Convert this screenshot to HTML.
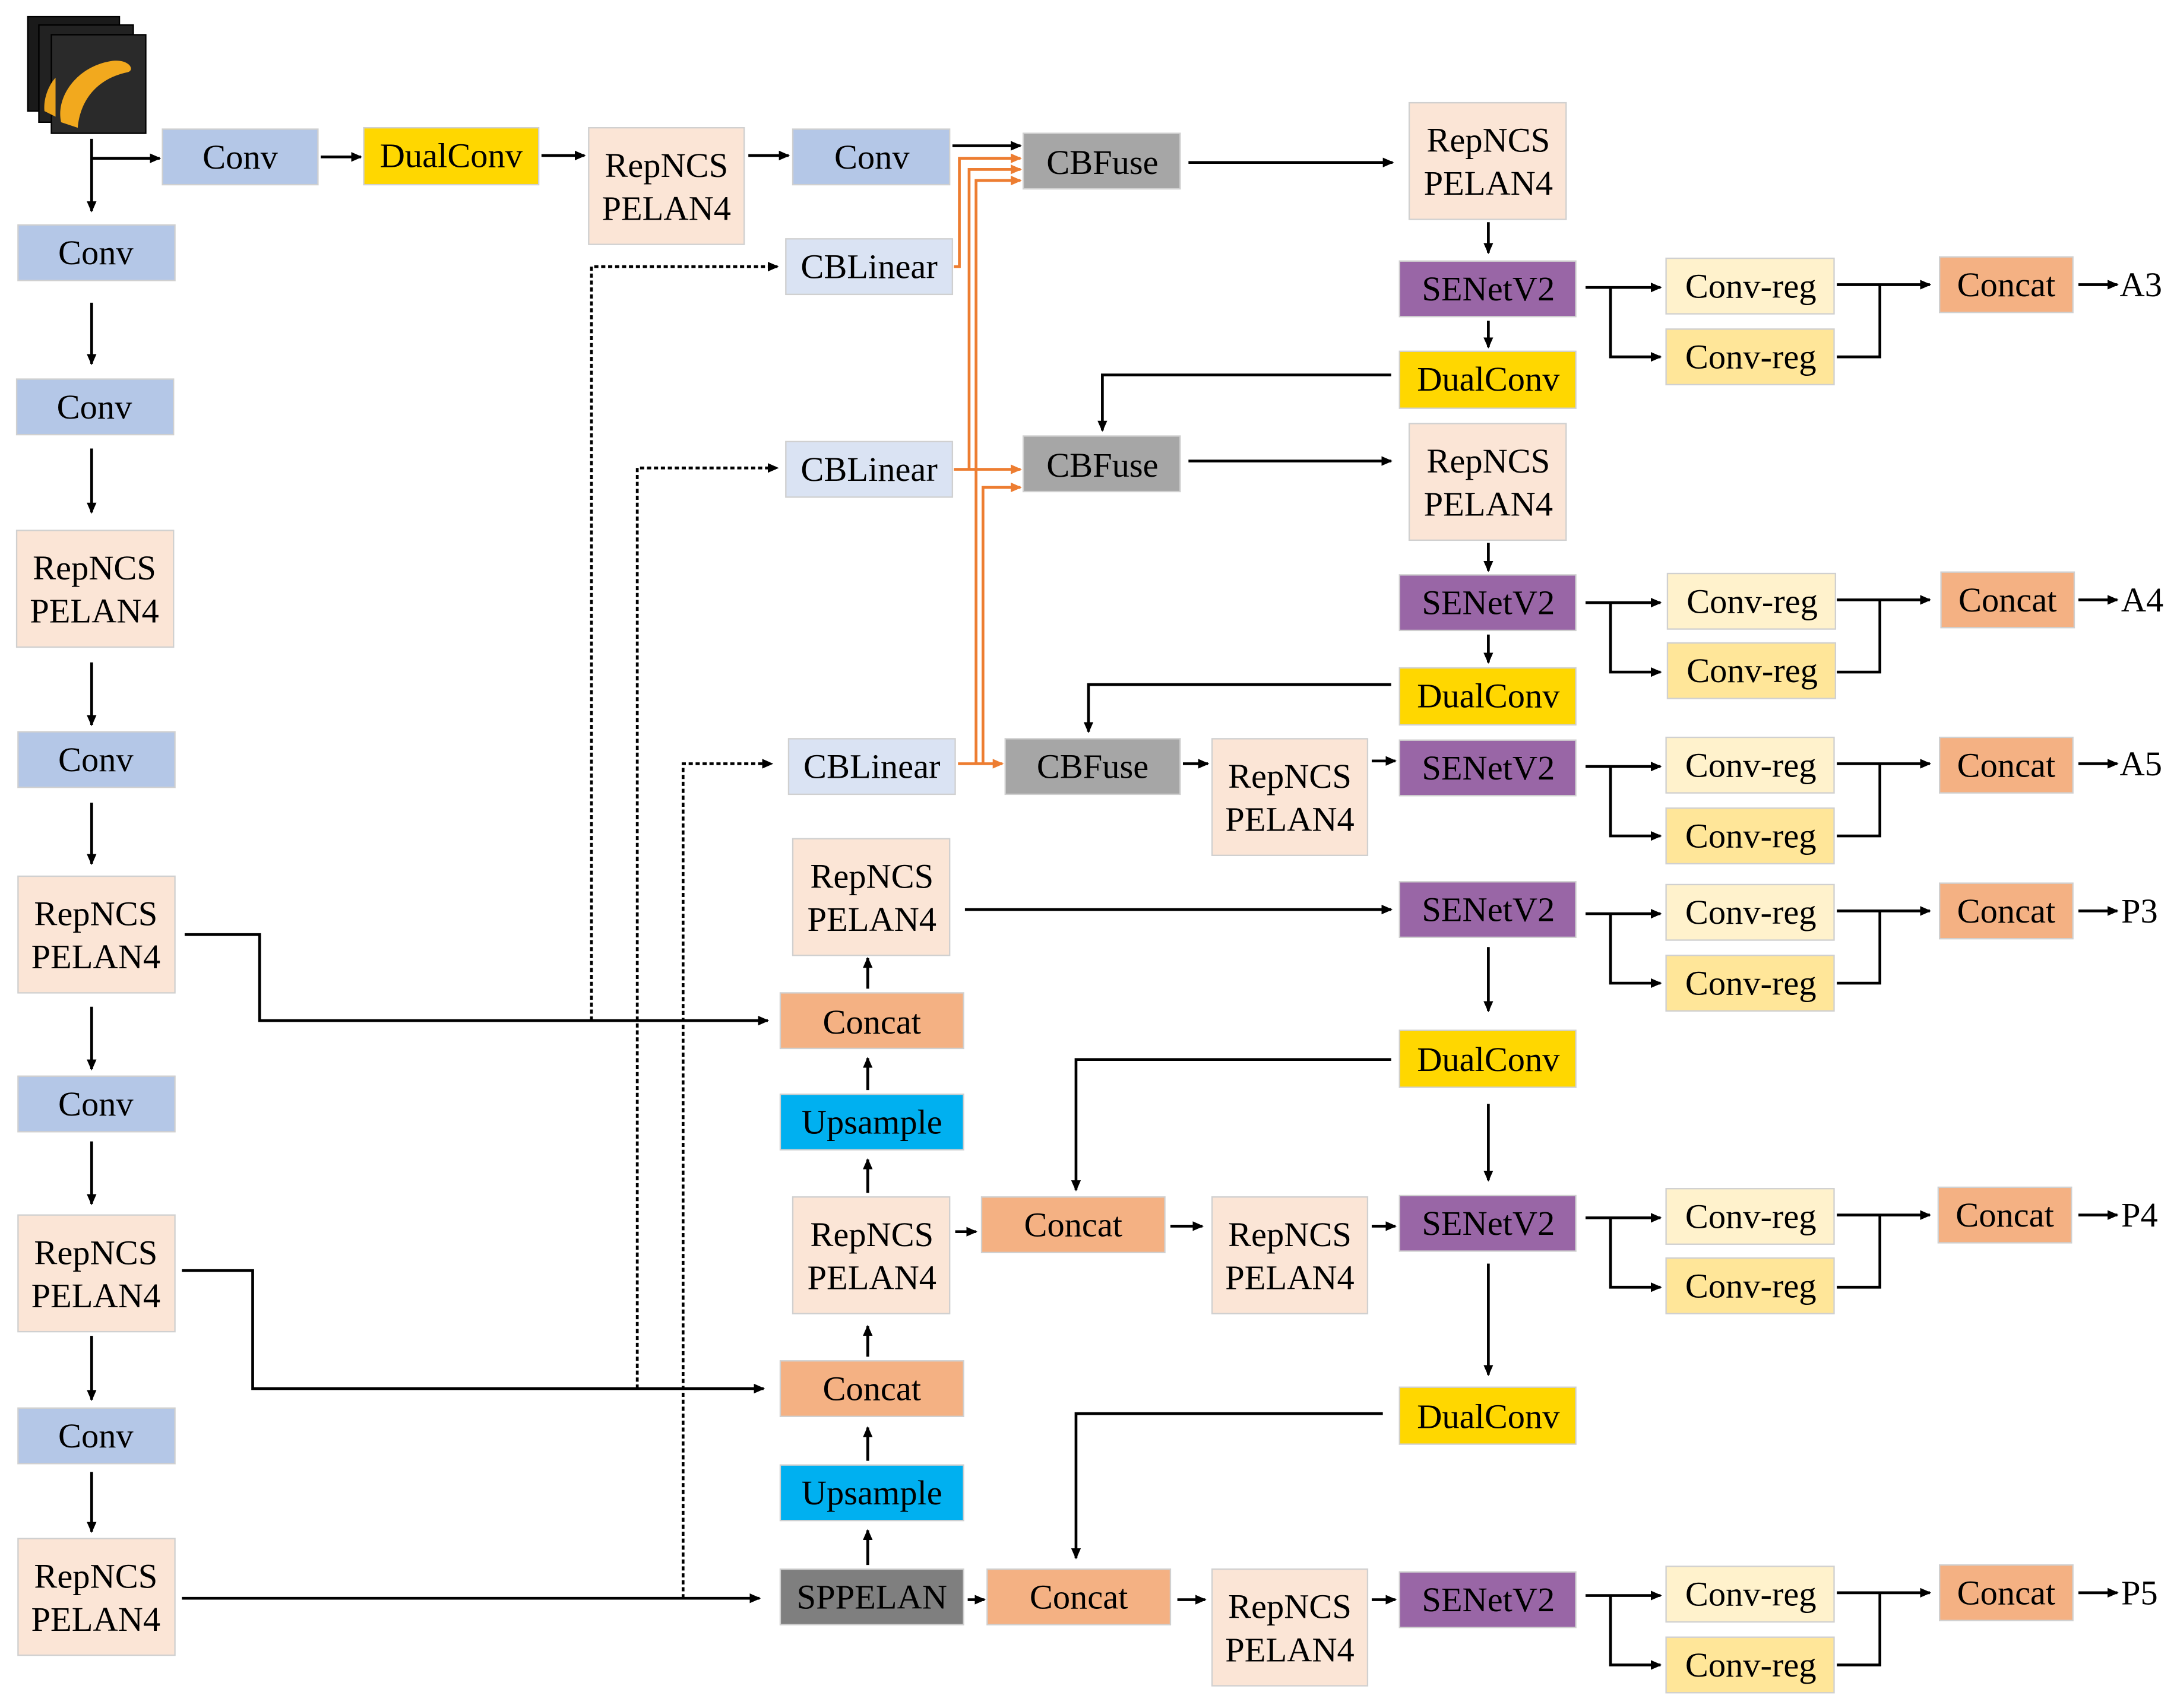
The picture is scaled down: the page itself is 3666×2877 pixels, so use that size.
<!DOCTYPE html>
<html><head><meta charset="utf-8"><style>
html,body{margin:0;padding:0;background:#fff;}
svg{display:block;font-family:"Liberation Serif","Times New Roman","DejaVu Serif",serif;}
text{font-family:"Liberation Serif","Times New Roman","DejaVu Serif",serif;font-size:25px;fill:#000;text-anchor:middle;dominant-baseline:central;}
</style></head><body>
<svg width="3666" height="2877" viewBox="0 0 1568 1230" preserveAspectRatio="none" xmlns="http://www.w3.org/2000/svg" font-family="Liberation Serif, Times New Roman, DejaVu Serif, serif">
<defs>
<marker id="a" markerWidth="8" markerHeight="8" refX="7" refY="4" orient="auto" markerUnits="userSpaceOnUse"><path d="M0,0.5 L8,4 L0,7.5 z" fill="#000"/></marker>
<marker id="o" markerWidth="8" markerHeight="8" refX="7" refY="4" orient="auto" markerUnits="userSpaceOnUse"><path d="M0,0.5 L8,4 L0,7.5 z" fill="#ed7d31"/></marker>
</defs>
<rect x="20" y="12" width="66" height="68" fill="#1a1a1a" stroke="#000"/>
<rect x="28" y="18" width="68" height="70" fill="#222" stroke="#000"/>
<rect x="37" y="25" width="68" height="71" fill="#2a2a2a" stroke="#000"/>
<path d="M44,88 C40,70 55,48 80,44 C92,42 98,50 92,52 C72,56 58,70 56,92 Z" fill="#f2a91e"/>
<path d="M32,80 C31,70 36,60 40,56 L40,84 Z" fill="#e9a21c"/>

<g stroke="#000" stroke-width="2" fill="none">
<path d="M66,100 V152" marker-end="url(#a)"/>
<path d="M66,114 H115" marker-end="url(#a)"/>
<path d="M66,218 V262" marker-end="url(#a)"/>
<path d="M66,323 V369" marker-end="url(#a)"/>
<path d="M66,477 V522" marker-end="url(#a)"/>
<path d="M66,578 V622" marker-end="url(#a)"/>
<path d="M66,725 V770" marker-end="url(#a)"/>
<path d="M66,822 V867" marker-end="url(#a)"/>
<path d="M66,962 V1008" marker-end="url(#a)"/>
<path d="M66,1060 V1103" marker-end="url(#a)"/>
<path d="M231,113 H260" marker-end="url(#a)"/>
<path d="M390,112 H421" marker-end="url(#a)"/>
<path d="M539,112 H568" marker-end="url(#a)"/>
<path d="M686,105 H735" marker-end="url(#a)"/>
<path d="M856,117 H1003" marker-end="url(#a)"/>
<path d="M1072,160 V182" marker-end="url(#a)"/>
<path d="M1072,231 V250" marker-end="url(#a)"/>
<path d="M1002,270 H794 V310" marker-end="url(#a)"/>
<path d="M856,332 H1002" marker-end="url(#a)"/>
<path d="M1072,391 V411" marker-end="url(#a)"/>
<path d="M1072,457 V477" marker-end="url(#a)"/>
<path d="M1002,493 H784 V527" marker-end="url(#a)"/>
<path d="M852,550 H870" marker-end="url(#a)"/>
<path d="M988,548 H1005" marker-end="url(#a)"/>
<path d="M133,673 H187 V735 H553" marker-end="url(#a)"/>
<path d="M131,915 H182 V1000 H550" marker-end="url(#a)"/>
<path d="M131,1151 H547" marker-end="url(#a)"/>
<path d="M625,712 V690" marker-end="url(#a)"/>
<path d="M625,785 V762" marker-end="url(#a)"/>
<path d="M625,859 V835" marker-end="url(#a)"/>
<path d="M625,977 V955" marker-end="url(#a)"/>
<path d="M625,1052 V1028" marker-end="url(#a)"/>
<path d="M625,1127 V1102" marker-end="url(#a)"/>
<path d="M695,655 H1002" marker-end="url(#a)"/>
<path d="M1072,682 V728" marker-end="url(#a)"/>
<path d="M1002,763 H775 V857" marker-end="url(#a)"/>
<path d="M1072,795 V850" marker-end="url(#a)"/>
<path d="M688,887 H703" marker-end="url(#a)"/>
<path d="M843,883 H866" marker-end="url(#a)"/>
<path d="M988,883 H1005" marker-end="url(#a)"/>
<path d="M1072,910 V990" marker-end="url(#a)"/>
<path d="M996,1018 H775 V1122" marker-end="url(#a)"/>
<path d="M697,1152 H709" marker-end="url(#a)"/>
<path d="M848,1152 H868" marker-end="url(#a)"/>
<path d="M988,1152 H1005" marker-end="url(#a)"/>
</g>
<g stroke="#000" stroke-width="2" fill="none" stroke-dasharray="3,2">
<path d="M426,735 V192 H560" marker-end="url(#a)"/>
<path d="M459,1000 V337 H560" marker-end="url(#a)"/>
<path d="M492,1151 V550 H556" marker-end="url(#a)"/>
</g>
<g stroke="#ed7d31" stroke-width="2" fill="none">
<path d="M687,192 H691 V114 H735" marker-end="url(#o)"/>
<path d="M687,338 H735" marker-end="url(#o)"/>
<path d="M698,338 V122 H735" marker-end="url(#o)"/>
<path d="M690,550 H722" marker-end="url(#o)"/>
<path d="M703,550 V130 H735" marker-end="url(#o)"/>
<path d="M708,550 V351 H735" marker-end="url(#o)"/>
</g>
<g stroke="#000" stroke-width="2" fill="none">
<path d="M1142,207 H1196" marker-end="url(#a)"/><path d="M1160,207 V257 H1196" marker-end="url(#a)"/><path d="M1323,205 H1390" marker-end="url(#a)"/><path d="M1323,257 H1354 V205"/><path d="M1497,205 H1525" marker-end="url(#a)"/>
<path d="M1142,434 H1196" marker-end="url(#a)"/><path d="M1160,434 V484 H1196" marker-end="url(#a)"/><path d="M1323,432 H1390" marker-end="url(#a)"/><path d="M1323,484 H1354 V432"/><path d="M1497,432 H1525" marker-end="url(#a)"/>
<path d="M1142,552 H1196" marker-end="url(#a)"/><path d="M1160,552 V602 H1196" marker-end="url(#a)"/><path d="M1323,550 H1390" marker-end="url(#a)"/><path d="M1323,602 H1354 V550"/><path d="M1497,550 H1525" marker-end="url(#a)"/>
<path d="M1142,658 H1196" marker-end="url(#a)"/><path d="M1160,658 V708 H1196" marker-end="url(#a)"/><path d="M1323,656 H1390" marker-end="url(#a)"/><path d="M1323,708 H1354 V656"/><path d="M1497,656 H1525" marker-end="url(#a)"/>
<path d="M1142,877 H1196" marker-end="url(#a)"/><path d="M1160,877 V927 H1196" marker-end="url(#a)"/><path d="M1323,875 H1390" marker-end="url(#a)"/><path d="M1323,927 H1354 V875"/><path d="M1497,875 H1525" marker-end="url(#a)"/>
<path d="M1142,1149 H1196" marker-end="url(#a)"/><path d="M1160,1149 V1199 H1196" marker-end="url(#a)"/><path d="M1323,1147 H1390" marker-end="url(#a)"/><path d="M1323,1199 H1354 V1147"/><path d="M1497,1147 H1525" marker-end="url(#a)"/>
</g>

<g stroke="#d0d0d0" stroke-width="1">
<rect x="13" y="162" width="113" height="40" fill="#b4c7e7"/>
<rect x="12" y="273" width="113" height="40" fill="#b4c7e7"/>
<rect x="12" y="382" width="113" height="84" fill="#fbe5d6"/>
<rect x="13" y="527" width="113" height="40" fill="#b4c7e7"/>
<rect x="13" y="631" width="113" height="84" fill="#fbe5d6"/>
<rect x="13" y="775" width="113" height="40" fill="#b4c7e7"/>
<rect x="13" y="875" width="113" height="84" fill="#fbe5d6"/>
<rect x="13" y="1014" width="113" height="40" fill="#b4c7e7"/>
<rect x="13" y="1108" width="113" height="84" fill="#fbe5d6"/>
<rect x="117" y="93" width="112" height="40" fill="#b4c7e7"/>
<rect x="262" y="92" width="126" height="41" fill="#ffd700"/>
<rect x="424" y="92" width="112" height="84" fill="#fbe5d6"/>
<rect x="571" y="93" width="113" height="40" fill="#b4c7e7"/>
<rect x="737" y="96" width="113" height="40" fill="#a6a6a6"/>
<rect x="566" y="172" width="120" height="40" fill="#dae3f3"/>
<rect x="566" y="318" width="120" height="40" fill="#dae3f3"/>
<rect x="568" y="532" width="120" height="40" fill="#dae3f3"/>
<rect x="737" y="314" width="113" height="40" fill="#a6a6a6"/>
<rect x="724" y="532" width="126" height="40" fill="#a6a6a6"/>
<rect x="1015" y="74" width="113" height="84" fill="#fbe5d6"/>
<rect x="1008" y="188" width="127" height="40" fill="#9966a6"/>
<rect x="1008" y="253" width="127" height="41" fill="#ffd700"/>
<rect x="1015" y="305" width="113" height="84" fill="#fbe5d6"/>
<rect x="1008" y="414" width="127" height="40" fill="#9966a6"/>
<rect x="1008" y="481" width="127" height="41" fill="#ffd700"/>
<rect x="873" y="532" width="112" height="84" fill="#fbe5d6"/>
<rect x="1008" y="533" width="127" height="40" fill="#9966a6"/>
<rect x="571" y="604" width="113" height="84" fill="#fbe5d6"/>
<rect x="562" y="715" width="132" height="40" fill="#f4b183"/>
<rect x="562" y="788" width="132" height="40" fill="#00b0f0"/>
<rect x="571" y="862" width="113" height="84" fill="#fbe5d6"/>
<rect x="562" y="980" width="132" height="40" fill="#f4b183"/>
<rect x="562" y="1055" width="132" height="40" fill="#00b0f0"/>
<rect x="562" y="1130" width="132" height="40" fill="#7f7f7f"/>
<rect x="1008" y="635" width="127" height="40" fill="#9966a6"/>
<rect x="1008" y="742" width="127" height="41" fill="#ffd700"/>
<rect x="707" y="862" width="132" height="40" fill="#f4b183"/>
<rect x="873" y="862" width="112" height="84" fill="#fbe5d6"/>
<rect x="1008" y="861" width="127" height="40" fill="#9966a6"/>
<rect x="1008" y="999" width="127" height="41" fill="#ffd700"/>
<rect x="711" y="1130" width="132" height="40" fill="#f4b183"/>
<rect x="873" y="1130" width="112" height="84" fill="#fbe5d6"/>
<rect x="1008" y="1132" width="127" height="40" fill="#9966a6"/>
<rect x="1200" y="186" width="121" height="40" fill="#fff2cc"/><rect x="1200" y="237" width="121" height="40" fill="#ffe699"/><rect x="1397" y="185" width="96" height="40" fill="#f4b183"/>
<rect x="1201" y="413" width="121" height="40" fill="#fff2cc"/><rect x="1201" y="463" width="121" height="40" fill="#ffe699"/><rect x="1398" y="412" width="96" height="40" fill="#f4b183"/>
<rect x="1200" y="531" width="121" height="40" fill="#fff2cc"/><rect x="1200" y="582" width="121" height="40" fill="#ffe699"/><rect x="1397" y="531" width="96" height="40" fill="#f4b183"/>
<rect x="1200" y="637" width="121" height="40" fill="#fff2cc"/><rect x="1200" y="688" width="121" height="40" fill="#ffe699"/><rect x="1397" y="636" width="96" height="40" fill="#f4b183"/>
<rect x="1200" y="856" width="121" height="40" fill="#fff2cc"/><rect x="1200" y="906" width="121" height="40" fill="#ffe699"/><rect x="1396" y="855" width="96" height="40" fill="#f4b183"/>
<rect x="1200" y="1128" width="121" height="40" fill="#fff2cc"/><rect x="1200" y="1179" width="121" height="40" fill="#ffe699"/><rect x="1397" y="1127" width="96" height="40" fill="#f4b183"/>
</g>

<g font-family="Liberation Serif, Times New Roman, DejaVu Serif, serif" font-size="25">
<text x="69" y="182">Conv</text>
<text x="68" y="293">Conv</text>
<text x="68" y="409">RepNCS</text><text x="68" y="440">PELAN4</text>
<text x="69" y="547">Conv</text>
<text x="69" y="658">RepNCS</text><text x="69" y="689">PELAN4</text>
<text x="69" y="795">Conv</text>
<text x="69" y="902">RepNCS</text><text x="69" y="933">PELAN4</text>
<text x="69" y="1034">Conv</text>
<text x="69" y="1135">RepNCS</text><text x="69" y="1166">PELAN4</text>
<text x="173" y="113">Conv</text>
<text x="325" y="112">DualConv</text>
<text x="480" y="119">RepNCS</text><text x="480" y="150">PELAN4</text>
<text x="628" y="113">Conv</text>
<text x="794" y="117">CBFuse</text>
<text x="626" y="192">CBLinear</text>
<text x="626" y="338">CBLinear</text>
<text x="628" y="552">CBLinear</text>
<text x="794" y="335">CBFuse</text>
<text x="787" y="552">CBFuse</text>
<text x="1072" y="101">RepNCS</text><text x="1072" y="132">PELAN4</text>
<text x="1072" y="208">SENetV2</text>
<text x="1072" y="273">DualConv</text>
<text x="1072" y="332">RepNCS</text><text x="1072" y="363">PELAN4</text>
<text x="1072" y="434">SENetV2</text>
<text x="1072" y="501">DualConv</text>
<text x="929" y="559">RepNCS</text><text x="929" y="590">PELAN4</text>
<text x="1072" y="553">SENetV2</text>
<text x="628" y="631">RepNCS</text><text x="628" y="662">PELAN4</text>
<text x="628" y="736">Concat</text>
<text x="628" y="808">Upsample</text>
<text x="628" y="889">RepNCS</text><text x="628" y="920">PELAN4</text>
<text x="628" y="1000">Concat</text>
<text x="628" y="1075">Upsample</text>
<text x="628" y="1150">SPPELAN</text>
<text x="1072" y="655">SENetV2</text>
<text x="1072" y="763">DualConv</text>
<text x="773" y="882">Concat</text>
<text x="929" y="889">RepNCS</text><text x="929" y="920">PELAN4</text>
<text x="1072" y="881">SENetV2</text>
<text x="1072" y="1020">DualConv</text>
<text x="777" y="1150">Concat</text>
<text x="929" y="1157">RepNCS</text><text x="929" y="1188">PELAN4</text>
<text x="1072" y="1152">SENetV2</text>
<text x="1261" y="206">Conv-reg</text><text x="1261" y="257">Conv-reg</text><text x="1445" y="205">Concat</text><text x="1542" y="205">A3</text>
<text x="1262" y="433">Conv-reg</text><text x="1262" y="483">Conv-reg</text><text x="1446" y="432">Concat</text><text x="1543" y="432">A4</text>
<text x="1261" y="551">Conv-reg</text><text x="1261" y="602">Conv-reg</text><text x="1445" y="551">Concat</text><text x="1542" y="550">A5</text>
<text x="1261" y="657">Conv-reg</text><text x="1261" y="708">Conv-reg</text><text x="1445" y="656">Concat</text><text x="1541" y="656">P3</text>
<text x="1261" y="876">Conv-reg</text><text x="1261" y="926">Conv-reg</text><text x="1444" y="875">Concat</text><text x="1541" y="875">P4</text>
<text x="1261" y="1148">Conv-reg</text><text x="1261" y="1199">Conv-reg</text><text x="1445" y="1147">Concat</text><text x="1541" y="1147">P5</text>
</g>
</svg>
</body></html>
